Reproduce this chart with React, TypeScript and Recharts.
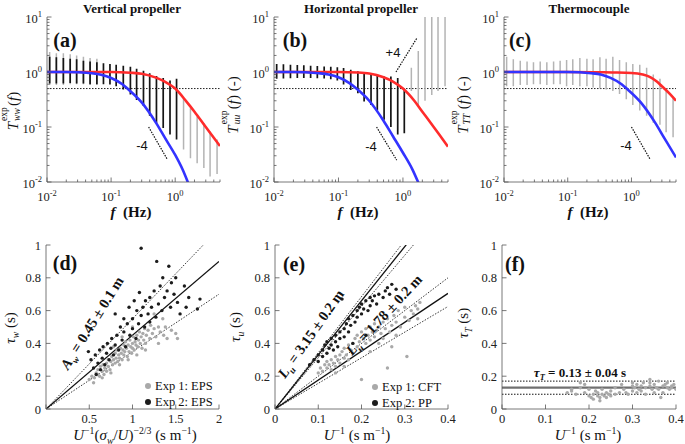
import React from 'react';
import { ComposedChart, Line, Scatter, XAxis, YAxis, ReferenceLine } from 'recharts';

const SERIF = '"Liberation Serif", "Times New Roman", serif';
const SANS = '"Liberation Sans", Arial, sans-serif';
const AXIS = '#555';
const RED = '#ff2b2b';
const BLUE = '#3333ff';
const GREY_PT = '#a9a9a9';
const BLACK_PT = '#1c1c1c';

// log ticks (top row) and linear ticks (bottom row)
const F_TICKS = [0.01, 0.02, 0.03, 0.04, 0.05, 0.06, 0.07, 0.08, 0.09, 0.1, 0.2, 0.3, 0.4, 0.5, 0.6, 0.7, 0.8, 0.9, 1, 2, 3, 4, 5];
const T_TICKS = [0.01, 0.02, 0.03, 0.04, 0.05, 0.06, 0.07, 0.08, 0.09, 0.1, 0.2, 0.3, 0.4, 0.5, 0.6, 0.7, 0.8, 0.9, 1, 2, 3, 4, 5, 6, 7, 8, 9, 10];
const TAU_TICKS = [0, 0.2, 0.4, 0.6, 0.8, 1];
const D_X_TICKS = [0, 0.5, 1, 1.5, 2];
const U_X_TICKS = [0, 0.1, 0.2, 0.3, 0.4];

// transfer functions [f, T]
const A_RED = [[0.01, 1], [0.1, 1], [0.2, 0.97], [0.3, 0.93], [0.5, 0.79], [0.7, 0.66], [1, 0.5], [1.5, 0.29], [2, 0.19], [3, 0.1], [4, 0.064], [5, 0.045]];
const A_BLUE = [[0.01, 1], [0.02, 1], [0.03, 0.99], [0.05, 0.95], [0.07, 0.89], [0.1, 0.78], [0.15, 0.6], [0.18, 0.5], [0.3, 0.28], [0.5, 0.12], [0.7, 0.062], [1, 0.031], [1.3, 0.017], [1.6, 0.0095]];
const B_RED = [[0.01, 1], [0.1, 1], [0.2, 0.98], [0.3, 0.94], [0.5, 0.8], [0.7, 0.67], [1, 0.5], [1.5, 0.3], [2, 0.19], [3, 0.1], [4, 0.063], [5, 0.044]];
const B_BLUE = [[0.01, 1], [0.02, 1], [0.03, 0.99], [0.05, 0.95], [0.07, 0.9], [0.1, 0.8], [0.15, 0.62], [0.19, 0.5], [0.3, 0.3], [0.5, 0.13], [0.7, 0.068], [1, 0.034], [1.4, 0.017], [1.75, 0.0095]];
const C_RED = [[0.01, 1], [0.1, 1], [0.3, 0.99], [0.5, 0.98], [1, 0.96], [1.5, 0.9], [2, 0.8], [2.5, 0.67], [3, 0.55], [4, 0.4], [5, 0.3]];
const C_BLUE = [[0.01, 1], [0.1, 1], [0.235, 0.95], [0.33, 0.9], [0.47, 0.78], [0.7, 0.6], [0.84, 0.5], [1.4, 0.28], [2.35, 0.12], [3.3, 0.062], [5, 0.028]];

// measured spread at each frequency [f, low, high]
const A_DARK = [[0.011, 0.62, 1.9], [0.014, 0.62, 1.85], [0.018, 0.62, 1.8], [0.023, 0.63, 1.75], [0.029, 0.62, 1.7], [0.037, 0.62, 1.6], [0.047, 0.6, 1.55], [0.06, 0.6, 1.5], [0.076, 0.6, 1.45], [0.096, 0.59, 1.4], [0.12, 0.55, 1.35], [0.155, 0.48, 1.3], [0.2, 0.39, 1.25], [0.25, 0.31, 1.15], [0.32, 0.24, 1.05], [0.4, 0.16, 0.95], [0.51, 0.118, 0.85], [0.65, 0.096, 0.78], [0.83, 0.073, 0.7], [1.05, 0.059, 0.75]];
const A_LIGHT = [[0.011, 0.58, 2.3], [0.014, 0.58, 2.2], [0.018, 0.58, 2.2], [0.023, 0.6, 2.1], [0.029, 0.6, 2.0], [0.037, 0.6, 1.9], [0.047, 0.58, 1.8], [0.06, 0.58, 1.75], [1.35, 0.039, 0.33], [1.73, 0.027, 0.22], [2.2, 0.022, 0.156], [2.8, 0.018, 0.118], [3.5, 0.0126, 0.083], [4.5, 0.014, 0.059]];
const B_DARK = [[0.011, 0.75, 1.4], [0.014, 0.76, 1.38], [0.018, 0.77, 1.36], [0.023, 0.78, 1.34], [0.029, 0.78, 1.32], [0.037, 0.78, 1.3], [0.047, 0.77, 1.28], [0.06, 0.76, 1.26], [0.076, 0.74, 1.25], [0.096, 0.7, 1.22], [0.12, 0.59, 1.18], [0.155, 0.47, 1.1], [0.2, 0.41, 1.03], [0.25, 0.29, 0.96], [0.32, 0.25, 0.9], [0.4, 0.2, 0.9], [0.51, 0.135, 0.83], [0.65, 0.1, 0.83], [0.83, 0.073, 0.78], [1.05, 0.077, 0.48]];
const B_LIGHT = [[1.35, 0.45, 1.2], [1.73, 0.24, 2.4], [2.2, 0.3, 10], [2.8, 0.38, 10], [3.5, 0.45, 10], [4.5, 0.55, 10]];
const C_LIGHT = [[0.011, 0.55, 1.9], [0.014, 0.55, 1.7], [0.018, 0.58, 1.6], [0.023, 0.58, 1.55], [0.029, 0.6, 1.5], [0.037, 0.6, 1.55], [0.047, 0.58, 1.5], [0.06, 0.6, 1.55], [0.076, 0.6, 1.6], [0.096, 0.55, 1.65], [0.12, 0.58, 1.7], [0.155, 0.55, 1.8], [0.2, 0.55, 1.75], [0.25, 0.52, 1.7], [0.32, 0.5, 1.85], [0.4, 0.48, 1.75], [0.51, 0.45, 1.9], [0.65, 0.4, 1.65], [0.83, 0.32, 1.5], [1.05, 0.25, 1.4], [1.35, 0.2, 1.35], [1.73, 0.16, 1.2], [2.2, 0.12, 0.9], [2.8, 0.11, 0.75], [3.5, 0.08, 0.5], [4.5, 0.065, 0.36]];

// slope guides
const A_MINUS4 = [[0.385, 0.1], [0.75, 0.026]];
const B_MINUS4 = [[0.39, 0.1], [0.8, 0.025]];
const B_PLUS4 = [[0.78, 1.0], [1.65, 4.15]];
const C_MINUS4 = [[1.0, 0.1], [1.96, 0.026]];

// bottom row fits [x, tau]
const D_FIT = [[0, 0], [2, 0.9]];
const D_UP = [[0, 0], [2, 1.1]];
const D_LO = [[0, 0], [2, 0.7]];
const E_PP_FIT = [[0, 0], [0.4, 1.32]];
const E_PP_UP = [[0, 0], [0.4, 1.37]];
const E_PP_LO = [[0, 0], [0.4, 1.25]];
const E_CFT_FIT = [[0, 0], [0.4, 0.705]];
const E_CFT_UP = [[0, 0], [0.4, 0.8]];
const E_CFT_LO = [[0, 0], [0.4, 0.625]];
const F_TAU = [0.09, 0.13, 0.17];

const D_EXP2 = [[0.49, 0.35], [0.52, 0.3], [0.55, 0.25], [0.57, 0.33], [0.58, 0.21], [0.6, 0.28], [0.62, 0.36], [0.63, 0.24], [0.65, 0.31], [0.66, 0.38], [0.68, 0.27], [0.7, 0.34], [0.71, 0.4], [0.73, 0.3], [0.75, 0.37], [0.76, 0.43], [0.78, 0.33], [0.8, 0.39], [0.8, 0.58], [0.82, 0.45], [0.84, 0.36], [0.86, 0.5], [0.88, 0.42], [0.9, 0.55], [0.9, 0.47], [0.92, 0.38], [0.94, 0.52], [0.96, 0.62], [0.97, 0.45], [1.0, 0.55], [1.0, 0.49], [1.02, 0.66], [1.04, 0.43], [1.05, 0.6], [1.07, 0.52], [1.08, 0.71], [1.1, 0.98], [1.1, 0.57], [1.12, 0.62], [1.14, 0.5], [1.15, 0.66], [1.18, 0.58], [1.2, 0.68], [1.2, 0.53], [1.22, 0.62], [1.25, 0.72], [1.27, 0.56], [1.28, 0.9], [1.3, 0.64], [1.32, 0.75], [1.34, 0.6], [1.35, 0.8], [1.37, 0.68], [1.4, 0.72], [1.42, 0.87], [1.44, 0.62], [1.45, 0.77], [1.48, 0.7], [1.5, 0.8], [1.52, 0.65], [1.55, 0.58], [1.6, 0.75], [1.62, 0.62], [1.65, 0.68], [1.75, 0.61], [1.78, 0.67]];
const D_EXP1 = [[0.5, 0.18], [0.53, 0.2], [0.56, 0.19], [0.58, 0.22], [0.6, 0.21], [0.6, 0.24], [0.62, 0.2], [0.63, 0.26], [0.65, 0.23], [0.66, 0.27], [0.67, 0.21], [0.68, 0.25], [0.7, 0.28], [0.7, 0.23], [0.72, 0.3], [0.72, 0.26], [0.74, 0.24], [0.75, 0.29], [0.76, 0.32], [0.77, 0.27], [0.78, 0.3], [0.8, 0.34], [0.8, 0.28], [0.81, 0.31], [0.82, 0.36], [0.83, 0.29], [0.84, 0.33], [0.85, 0.31], [0.86, 0.37], [0.87, 0.34], [0.88, 0.3], [0.89, 0.36], [0.9, 0.39], [0.9, 0.33], [0.91, 0.35], [0.92, 0.41], [0.93, 0.37], [0.94, 0.32], [0.95, 0.39], [0.96, 0.35], [0.97, 0.42], [0.98, 0.38], [0.99, 0.34], [1.0, 0.4], [1.0, 0.37], [1.01, 0.44], [1.02, 0.36], [1.03, 0.41], [1.04, 0.39], [1.05, 0.45], [1.06, 0.38], [1.07, 0.42], [1.08, 0.47], [1.09, 0.4], [1.1, 0.44], [1.11, 0.37], [1.12, 0.46], [1.13, 0.42], [1.14, 0.49], [1.15, 0.4], [1.16, 0.45], [1.18, 0.48], [1.2, 0.43], [1.21, 0.51], [1.23, 0.46], [1.25, 0.49], [1.27, 0.44], [1.3, 0.5], [1.32, 0.47], [1.35, 0.55], [1.36, 0.45], [1.38, 0.5], [1.4, 0.43], [1.45, 0.48], [1.5, 0.46], [1.52, 0.43], [0.55, 0.16], [0.65, 0.19], [0.75, 0.22], [0.85, 0.27], [0.95, 0.3], [1.05, 0.33], [1.15, 0.36], [0.78, 0.38], [0.88, 0.44], [1.0, 0.5], [1.25, 0.58], [1.3, 0.4]];
const E_PP = [[0.08, 0.27], [0.09, 0.3], [0.1, 0.33], [0.1, 0.29], [0.11, 0.36], [0.11, 0.32], [0.115, 0.39], [0.12, 0.34], [0.12, 0.41], [0.125, 0.37], [0.13, 0.43], [0.13, 0.39], [0.135, 0.36], [0.14, 0.45], [0.14, 0.41], [0.145, 0.38], [0.15, 0.47], [0.15, 0.43], [0.155, 0.67], [0.16, 0.49], [0.16, 0.44], [0.165, 0.52], [0.17, 0.47], [0.17, 0.55], [0.175, 0.51], [0.18, 0.57], [0.18, 0.4], [0.185, 0.53], [0.19, 0.6], [0.19, 0.56], [0.195, 0.62], [0.2, 0.58], [0.2, 0.64], [0.205, 0.61], [0.21, 0.66], [0.21, 0.45], [0.215, 0.6], [0.22, 0.68], [0.22, 0.63], [0.225, 0.66], [0.23, 0.69], [0.235, 0.64], [0.24, 0.7], [0.25, 0.68], [0.255, 0.72], [0.26, 0.74], [0.265, 0.7], [0.27, 0.76], [0.28, 0.73]];
const E_CFT = [[0.1, 0.22], [0.105, 0.25], [0.11, 0.23], [0.115, 0.27], [0.12, 0.25], [0.12, 0.29], [0.125, 0.27], [0.13, 0.24], [0.13, 0.3], [0.135, 0.28], [0.14, 0.32], [0.14, 0.26], [0.145, 0.3], [0.15, 0.33], [0.15, 0.28], [0.155, 0.35], [0.16, 0.31], [0.16, 0.37], [0.165, 0.33], [0.17, 0.39], [0.17, 0.3], [0.175, 0.36], [0.18, 0.4], [0.18, 0.34], [0.185, 0.43], [0.19, 0.38], [0.19, 0.45], [0.195, 0.41], [0.2, 0.36], [0.2, 0.47], [0.2, 0.18], [0.205, 0.43], [0.21, 0.4], [0.21, 0.49], [0.215, 0.45], [0.22, 0.42], [0.22, 0.5], [0.225, 0.47], [0.23, 0.44], [0.23, 0.52], [0.235, 0.48], [0.24, 0.4], [0.24, 0.5], [0.245, 0.46], [0.25, 0.53], [0.25, 0.43], [0.255, 0.49], [0.26, 0.25], [0.26, 0.55], [0.265, 0.47], [0.27, 0.51], [0.275, 0.57], [0.28, 0.45], [0.28, 0.53], [0.285, 0.6], [0.29, 0.5], [0.3, 0.56], [0.3, 0.62], [0.305, 0.32], [0.31, 0.54], [0.315, 0.6], [0.32, 0.58], [0.325, 0.63], [0.33, 0.55], [0.33, 0.61], [0.335, 0.65], [0.27, 0.38], [0.22, 0.35], [0.16, 0.26], [0.14, 0.22]];
const F_TC = [[0.15, 0.1], [0.16, 0.11], [0.17, 0.09], [0.18, 0.13], [0.18, 0.16], [0.19, 0.1], [0.2, 0.08], [0.2, 0.12], [0.205, 0.07], [0.21, 0.09], [0.21, 0.06], [0.215, 0.11], [0.22, 0.08], [0.22, 0.1], [0.225, 0.07], [0.23, 0.09], [0.23, 0.12], [0.235, 0.08], [0.24, 0.1], [0.24, 0.07], [0.245, 0.09], [0.25, 0.11], [0.25, 0.08], [0.26, 0.09], [0.26, 0.13], [0.27, 0.1], [0.28, 0.12], [0.29, 0.09], [0.3, 0.14], [0.3, 0.11], [0.3, 0.16], [0.305, 0.13], [0.31, 0.15], [0.31, 0.1], [0.315, 0.12], [0.32, 0.14], [0.32, 0.11], [0.325, 0.16], [0.33, 0.13], [0.33, 0.09], [0.34, 0.18], [0.34, 0.14], [0.345, 0.12], [0.35, 0.15], [0.35, 0.1], [0.355, 0.13], [0.36, 0.17], [0.36, 0.12], [0.365, 0.07], [0.37, 0.14], [0.37, 0.1], [0.375, 0.15], [0.38, 0.13], [0.38, 0.16], [0.385, 0.12], [0.39, 0.14], [0.39, 0.13], [0.395, 0.15], [0.4, 0.12], [0.16, 0.12], [0.19, 0.15], [0.275, 0.15], [0.285, 0.1], [0.225, 0.05], [0.34, 0.16]];

const PL = 45, PT = 12, PR = 8, PB = 32;

type Side = 'bottom' | 'top' | 'left' | 'right';
const isDecade = (v: number) => Math.abs(Math.log10(v) - Math.round(Math.log10(v))) < 1e-9;

function makeTick(side: Side, log: boolean, labels: boolean, hide: number[] = []) {
  return (props: any) => {
    const { x, y, payload } = props;
    const v = payload.value as number;
    const major = !log || isDecade(v);
    const len = major ? 4.5 : 2.5;
    const l = side === 'bottom' ? { x1: x, x2: x, y1: y, y2: y - len }
      : side === 'top' ? { x1: x, x2: x, y1: y, y2: y + len }
      : side === 'left' ? { x1: x, x2: x + len, y1: y, y2: y }
      : { x1: x, x2: x - len, y1: y, y2: y };
    let label: any = null;
    if (labels && major && !hide.includes(v)) {
      const content = log
        ? [<tspan key="b">10</tspan>, <tspan key="e" dy={-5.5} fontSize={8.5}>{Math.round(Math.log10(v))}</tspan>]
        : String(v);
      const common = { fontFamily: SERIF, fontSize: 12.5, fill: '#222' };
      label = side === 'bottom'
        ? <text x={x} y={y + (log ? 19 : 14)} textAnchor="middle" {...common}>{content}</text>
        : <text x={x - 5} y={y + (log ? 5.5 : 4.5)} textAnchor="end" {...common}>{content}</text>;
    }
    return <g><line {...l} stroke={AXIS} strokeWidth={0.8} />{label}</g>;
  };
}

const pts = (a: number[][], kx: string, ky: string) => a.map(([x, y]) => ({ [kx]: x, [ky]: y }));
const segs = (a: number[][]) => a.flatMap(([f, lo, hi]) => [{ f, T: lo }, { f, T: hi }, { f, T: null }]);

type Box = { x: number; y: number; w: number; h: number };

function At({ x, y, rot = 0, size = 14, bold = false, font = SERIF, children }: any) {
  return (
    <div style={{ position: 'absolute', left: x, top: y, transform: `translate(-50%,-50%) rotate(${rot}deg)`, fontFamily: font, fontSize: size, fontWeight: bold ? 700 : 400, whiteSpace: 'nowrap', lineHeight: 1, color: '#111' }}>
      {children}
    </div>
  );
}

// superscript over subscript, sized for a 15px label
function Stack({ sup, sub }: { sup: string; sub: string }) {
  return (
    <span style={{ position: 'relative', display: 'inline-block', width: 16, height: 15 }}>
      <span style={{ position: 'absolute', left: 1, top: -3, fontSize: 9.5, lineHeight: 1 }}>{sup}</span>
      <i style={{ position: 'absolute', left: 1, top: 10, fontSize: 9.5, lineHeight: 1 }}>{sub}</i>
    </span>
  );
}

function SpectrumPanel({ box, red, blue, dark, light, guides }: { box: Box; red: number[][]; blue: number[][]; dark?: number[][]; light?: number[][]; guides: number[][][] }) {
  const axisLine = { stroke: AXIS, strokeWidth: 0.8 };
  return (
    <div style={{ position: 'absolute', left: box.x - PL, top: box.y - PT }}>
      <ComposedChart width={box.w + PL + PR} height={box.h + PT + PB} margin={{ top: PT, right: PR, bottom: 0, left: 0 }}>
        <XAxis dataKey="f" type="number" scale="log" domain={[0.01, 5]} allowDataOverflow ticks={F_TICKS} interval={0} tick={makeTick('bottom', true, true)} tickLine={false} tickSize={0} tickMargin={0} height={PB} axisLine={axisLine} />
        <XAxis xAxisId="top" orientation="top" type="number" scale="log" domain={[0.01, 5]} allowDataOverflow ticks={F_TICKS} interval={0} tick={makeTick('top', true, false)} tickLine={false} tickSize={0} tickMargin={0} height={0} axisLine={axisLine} />
        <YAxis type="number" scale="log" domain={[0.01, 10]} allowDataOverflow ticks={T_TICKS} interval={0} tick={makeTick('left', true, true)} tickLine={false} tickSize={0} tickMargin={0} width={PL} axisLine={axisLine} />
        <YAxis yAxisId="right" orientation="right" type="number" scale="log" domain={[0.01, 10]} allowDataOverflow ticks={T_TICKS} interval={0} tick={makeTick('right', true, false)} tickLine={false} tickSize={0} tickMargin={0} width={0} axisLine={axisLine} />
        <ReferenceLine y={0.5} stroke="#222" strokeDasharray="1.5 1.5" strokeWidth={1} />
        {light && <Line data={segs(light)} dataKey="T" stroke="#b4b4b4" strokeWidth={1.5} dot={false} isAnimationActive={false} />}
        {dark && <Line data={segs(dark)} dataKey="T" stroke="#151515" strokeWidth={1.7} dot={false} isAnimationActive={false} />}
        {guides.map((g, i) => (
          <Line key={i} data={pts(g, 'f', 'T')} dataKey="T" stroke="#111" strokeWidth={1.2} strokeDasharray="1.5 1.2" dot={false} isAnimationActive={false} />
        ))}
        <Line data={pts(red, 'f', 'T')} dataKey="T" type="monotone" stroke={RED} strokeWidth={2.6} dot={false} isAnimationActive={false} />
        <Line data={pts(blue, 'f', 'T')} dataKey="T" type="monotone" stroke={BLUE} strokeWidth={2.6} dot={false} isAnimationActive={false} />
      </ComposedChart>
    </div>
  );
}

const dotShape = (color: string) => (p: any) => <circle cx={p.cx} cy={p.cy} r={1.7} fill={color} />;

function TauPanel({ box, xMax, xTicks, hideX, grey, black, fits, bounds, flat }: { box: Box; xMax: number; xTicks: number[]; hideX: number[]; grey: number[][]; black?: number[][]; fits: number[][][]; bounds: number[][][]; flat?: number[] }) {
  const axisLine = { stroke: AXIS, strokeWidth: 0.8 };
  return (
    <div style={{ position: 'absolute', left: box.x - PL, top: box.y - PT }}>
      <ComposedChart width={box.w + PL + PR} height={box.h + PT + PB} margin={{ top: PT, right: PR, bottom: 0, left: 0 }}>
        <XAxis dataKey="x" type="number" domain={[0, xMax]} allowDataOverflow ticks={xTicks} interval={0} tick={makeTick('bottom', false, true, hideX)} tickLine={false} tickSize={0} tickMargin={0} height={PB} axisLine={axisLine} />
        <XAxis xAxisId="top" orientation="top" type="number" domain={[0, xMax]} allowDataOverflow ticks={xTicks} interval={0} tick={makeTick('top', false, false)} tickLine={false} tickSize={0} tickMargin={0} height={0} axisLine={axisLine} />
        <YAxis dataKey="y" type="number" domain={[0, 1]} allowDataOverflow ticks={TAU_TICKS} interval={0} tick={makeTick('left', false, true)} tickLine={false} tickSize={0} tickMargin={0} width={PL} axisLine={axisLine} />
        <YAxis yAxisId="right" orientation="right" type="number" domain={[0, 1]} allowDataOverflow ticks={TAU_TICKS} interval={0} tick={makeTick('right', false, false)} tickLine={false} tickSize={0} tickMargin={0} width={0} axisLine={axisLine} />
        <Scatter data={pts(grey, 'x', 'y')} fill={GREY_PT} shape={dotShape(GREY_PT)} isAnimationActive={false} />
        {black && <Scatter data={pts(black, 'x', 'y')} fill={BLACK_PT} shape={dotShape(BLACK_PT)} isAnimationActive={false} />}
        {bounds.map((g, i) => (
          <Line key={'b' + i} data={pts(g, 'x', 'y')} dataKey="y" stroke="#222" strokeWidth={0.9} strokeDasharray="1.5 1.5" dot={false} isAnimationActive={false} />
        ))}
        {fits.map((g, i) => (
          <Line key={'f' + i} data={pts(g, 'x', 'y')} dataKey="y" stroke="#111" strokeWidth={1.3} dot={false} isAnimationActive={false} />
        ))}
        {flat && <ReferenceLine y={flat[0]} stroke="#111" strokeDasharray="1.5 1.5" strokeWidth={1} />}
        {flat && <ReferenceLine y={flat[2]} stroke="#111" strokeDasharray="1.5 1.5" strokeWidth={1} />}
        {flat && <ReferenceLine y={flat[1]} stroke="#707070" strokeWidth={2.2} />}
      </ComposedChart>
    </div>
  );
}

function LegendRow({ x, y, color, text }: { x: number; y: number; color: string; text: string }) {
  return (
    <div style={{ position: 'absolute', left: x, top: y - 7, height: 14, display: 'flex', alignItems: 'center', gap: 4, fontFamily: SERIF, fontSize: 12.5, color: '#111', whiteSpace: 'nowrap' }}>
      <span style={{ width: 6, height: 6, borderRadius: 3, background: color, display: 'inline-block' }} />
      {text}
    </div>
  );
}

const BOX_A = { x: 47, y: 17, w: 173, h: 165 };
const BOX_B = { x: 274, y: 17, w: 174, h: 165 };
const BOX_C = { x: 504, y: 17, w: 172, h: 165 };
const BOX_D = { x: 46, y: 245, w: 173, h: 164 };
const BOX_E = { x: 275, y: 245, w: 173, h: 164 };
const BOX_F = { x: 502, y: 245, w: 174, h: 164 };

const sub = (s: string) => <sub style={{ fontSize: '0.65em', lineHeight: 0 }}>{s}</sub>;
const sup = (s: string) => <sup style={{ fontSize: '0.65em', lineHeight: 0 }}>{s}</sup>;

export default function App() {
  const fHz = <span style={{ fontWeight: 700 }}><i>f</i>&nbsp;&nbsp;(Hz)</span>;
  const uInv = <span><i>U</i>{sup('−1')} (s m{sup('−1')})</span>;
  return (
    <div style={{ position: 'absolute', left: 0, top: 0, width: 685, height: 444, background: '#fff', overflow: 'hidden' }}>
      <SpectrumPanel box={BOX_A} red={A_RED} blue={A_BLUE} dark={A_DARK} light={A_LIGHT} guides={[A_MINUS4]} />
      <SpectrumPanel box={BOX_B} red={B_RED} blue={B_BLUE} dark={B_DARK} light={B_LIGHT} guides={[B_MINUS4, B_PLUS4]} />
      <SpectrumPanel box={BOX_C} red={C_RED} blue={C_BLUE} light={C_LIGHT} guides={[C_MINUS4]} />
      <TauPanel box={BOX_D} xMax={2} xTicks={D_X_TICKS} hideX={[0]} grey={D_EXP1} black={D_EXP2} fits={[D_FIT]} bounds={[D_UP, D_LO]} />
      <TauPanel box={BOX_E} xMax={0.4} xTicks={U_X_TICKS} hideX={[]} grey={E_CFT} black={E_PP} fits={[E_PP_FIT, E_CFT_FIT]} bounds={[E_PP_UP, E_PP_LO, E_CFT_UP, E_CFT_LO]} />
      <TauPanel box={BOX_F} xMax={0.4} xTicks={U_X_TICKS} hideX={[]} grey={F_TC} fits={[]} bounds={[]} flat={F_TAU} />

      <At x={132} y={8} size={13} bold>Vertical propeller</At>
      <At x={361} y={8} size={13} bold>Horizontal propeller</At>
      <At x={589} y={8} size={13} bold>Thermocouple</At>

      <At x={65} y={40} size={20} bold>(a)</At>
      <At x={295} y={40} size={20} bold>(b)</At>
      <At x={520} y={40} size={20} bold>(c)</At>
      <At x={65} y={263} size={20} bold>(d)</At>
      <At x={294} y={264} size={20} bold>(e)</At>
      <At x={515} y={264} size={20} bold>(f)</At>

      <At x={131} y={212} size={15}>{fHz}</At>
      <At x={358} y={212} size={15}>{fHz}</At>
      <At x={588} y={212} size={15}>{fHz}</At>

      <At x={12} y={111} size={15} rot={-90}><i>T</i><Stack sup="exp" sub="ww" />(<i>f</i>)</At>
      <At x={232} y={105} size={15} rot={-90}><i>T</i><Stack sup="exp" sub="uu" />(<i>f</i>) (-)</At>
      <At x={462} y={105} size={15} rot={-90}><i>T</i><Stack sup="exp" sub="TT" />(<i>f</i>) (-)</At>

      <At x={142} y={145} size={13} font={SANS}>-4</At>
      <At x={371} y={146} size={13} font={SANS}>-4</At>
      <At x={393} y={52} size={13} font={SANS}>+4</At>
      <At x={626} y={145} size={13} font={SANS}>-4</At>

      <At x={10} y={328} size={15} rot={-90}><i>τ{sub('w')}</i> (s)</At>
      <At x={235} y={327} size={15} rot={-90}><i>τ{sub('u')}</i> (s)</At>
      <At x={463} y={323} size={15} rot={-90}><i>τ{sub('T')}</i> (s)</At>

      <At x={135} y={435} size={15}><i>U</i>{sup('−1')}(<i>σ{sub('w')}</i>/<i>U</i>){sup('−2/3')} (s m{sup('−1')})</At>
      <At x={357} y={435} size={15}>{uInv}</At>
      <At x={588} y={435} size={15}>{uInv}</At>

      <At x={92} y={323} size={14.5} bold rot={-58}><i>A{sub('w')}</i> = 0.45 ± 0.1 m</At>
      <At x={311} y={334} size={14.5} bold rot={-55}><i>L{sub('u')}</i> = 3.15 ± 0.2 m</At>
      <At x={384} y={315} size={14.5} bold rot={-47}><i>L{sub('u')}</i> = 1.78 ± 0.2 m</At>
      <At x={580} y={372} size={13} bold><i>τ{sub('T')}</i> = 0.13 ± 0.04 s</At>

      <LegendRow x={145} y={386} color={GREY_PT} text="Exp 1: EPS" />
      <LegendRow x={145} y={402} color={BLACK_PT} text="Exp 2: EPS" />
      <LegendRow x={372} y={387} color={GREY_PT} text="Exp 1: CFT" />
      <LegendRow x={372} y={403} color={BLACK_PT} text="Exp 2: PP" />
    </div>
  );
}
